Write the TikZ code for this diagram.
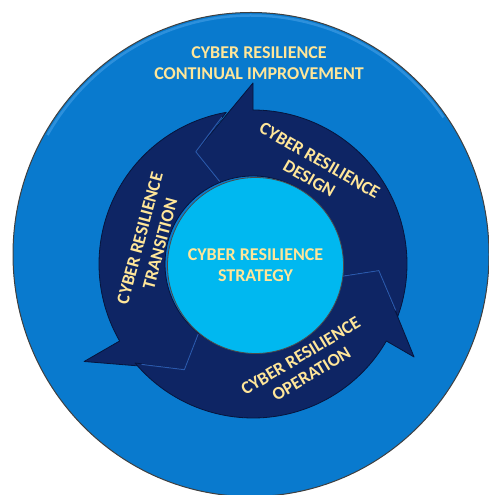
\documentclass[tikz,border=0pt]{standalone}
\usepackage{fontspec}
\setmainfont{Carlito}
\usetikzlibrary{backgrounds}
\pgfdeclarelayer{edgelayer}
\pgfdeclarelayer{nodelayer}
\pgfsetlayers{edgelayer,nodelayer,main}
\definecolor{outerblue}{RGB}{9,122,206}
\definecolor{rimblue}{RGB}{70,160,230}
\definecolor{navyarrow}{RGB}{14,37,100}
\definecolor{navyedge}{RGB}{6,20,60}
\definecolor{bevelblue}{RGB}{42,88,172}
\definecolor{corecyan}{RGB}{0,184,240}
\definecolor{txtyellow}{RGB}{255,230,153}
\tikzset{font=\bfseries\fontsize{18}{21}\selectfont}
\tikzstyle{none}=[inner sep=0pt]
\tikzstyle{txt}=[inner sep=0pt,align=center,text=txtyellow]
\tikzstyle{core}=[circle,fill=corecyan,draw=black!70,line width=0.8pt,minimum size=176pt,inner sep=0pt,align=center,text=txtyellow]
\tikzstyle{arrowbody}=[fill=navyarrow,draw=navyedge,line width=0.8pt,line join=round]
\tikzstyle{bevel}=[draw=bevelblue,line width=1pt,line join=round]

\begin{document}
\begin{tikzpicture}[x=1pt,y=1pt]
	\useasboundingbox (0,0) rectangle (489,495);
	\begin{pgfonlayer}{nodelayer}
		\node [style=txt] (0) at (259, 432) {CYBER RESILIENCE\\CONTINUAL IMPROVEMENT};
		\node [style=txt, rotate=-30] (1) at (314.5, 325.5) {CYBER RESILIENCE\\DESIGN};
		\node [style=txt, rotate=75] (2) at (150, 254) {CYBER RESILIENCE\\TRANSITION};
		\node [style=txt, rotate=31] (3) at (306, 130) {CYBER RESILIENCE\\OPERATION};
		\node [style=core] (4) at (255.5, 229.5) {CYBER RESILIENCE\\STRATEGY};
	\end{pgfonlayer}
	\begin{pgfonlayer}{edgelayer}
		\fill[outerblue, draw=black!75, line width=1pt] (251, 240.5) ellipse [x radius=238pt, y radius=242pt];
		\draw[rimblue, opacity=0.6, line width=2.5pt] (251, 240.5) ++(35:235pt and 239pt) arc [start angle=35, end angle=150, x radius=235pt, y radius=239pt];
		\begin{scope}[shift={(253, 231)}]
			% tip angle / how far the barb reaches out
			\foreach \tip/\reach in {90/181,210/195,330/186} {
				\pgfmathsetmacro{\back}{\tip-120}
				\path[style=arrowbody] (\back+10:154) arc [start angle=\back+10, end angle=\tip, radius=154pt]
					-- (\tip:\reach) -- (\tip+27:126) -- (\tip+22:88)
					arc [start angle=\tip+22, end angle=\back+22, radius=88pt]
					-- (\back+27:126) -- cycle;
			}
			\foreach \tip in {90,210,330} {
				\draw[style=bevel] (\tip+12:150) -- (\tip+27:126) -- (\tip+22:89);
			}
		\end{scope}
	\end{pgfonlayer}
\end{tikzpicture}
\end{document}
